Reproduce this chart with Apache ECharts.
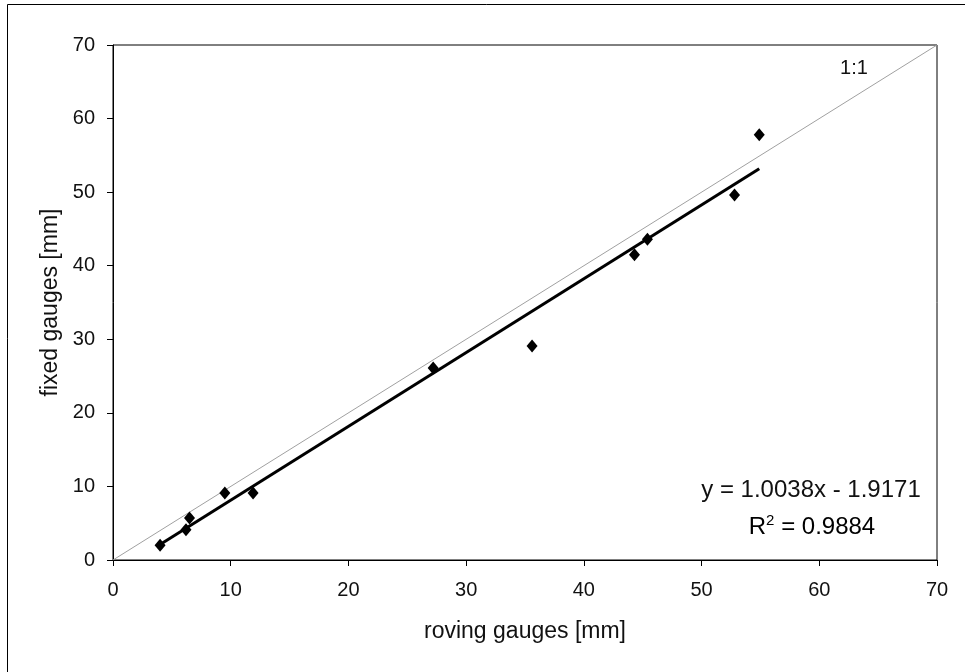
<!DOCTYPE html>
<html lang="en">

<head>
    <meta charset="UTF-8">
    <title>fixed vs roving gauges</title>
    <script src="https://cdn.jsdelivr.net/npm/echarts@6/dist/echarts.min.js"></script>
    <style>
        html,
        body {
            margin: 0;
            padding: 0;
            background: #fff;
        }

        #main {
            width: 965px;
            height: 672px;
        }
    </style>
</head>

<body>
    <div id="main"></div>
    <script type="text/javascript">
        // roving gauges (x) and fixed gauges (y), mm
        var roving = [4.0, 6.2, 6.5, 9.5, 11.9, 27.2, 35.6, 44.3, 45.4, 52.8, 54.9];
        var fixed = [2.0, 4.1, 5.7, 9.1, 9.1, 26.1, 29.1, 41.5, 43.6, 49.6, 57.8];
        // linear fit printed on the chart
        var slope = 1.0038;
        var intercept = -1.9171;
        var r2 = 0.9884;
        var axisTicks = [0, 10, 20, 30, 40, 50, 60, 70];

        var points = roving.map(function (x, i) { return [x, fixed[i]]; });
        var xMin = Math.min.apply(null, roving);
        var xMax = Math.max.apply(null, roving);
        var fitLine = [[xMin, slope * xMin + intercept], [xMax, slope * xMax + intercept]];
        var lo = axisTicks[0], hi = axisTicks[axisTicks.length - 1];
        var oneToOne = [[lo, lo], [hi, hi]];

        var font = 'Liberation Sans, Arial, sans-serif';
        var axisCommon = {
            type: 'value',
            min: lo,
            max: hi,
            interval: 10,
            nameLocation: 'middle',
            nameTextStyle: { fontFamily: font, fontSize: 23, color: '#111' },
            axisLine: { show: true, lineStyle: { color: '#000', width: 1 } },
            axisTick: { show: true, length: 6, lineStyle: { color: '#000' } },
            axisLabel: { fontFamily: font, fontSize: 20, color: '#111' },
            splitLine: { show: false }
        };

        var myChart = echarts.init(document.getElementById('main'));
        var option = {
            animation: false,
            backgroundColor: '#fff',
            grid: { left: 113, right: 28, top: 45, bottom: 112, show: true, borderColor: '#000', borderWidth: 1 },
            xAxis: Object.assign({}, axisCommon, {
                name: 'roving gauges [mm]',
                nameGap: 60,
                axisLabel: Object.assign({}, axisCommon.axisLabel, { margin: 20 })
            }),
            yAxis: Object.assign({}, axisCommon, {
                name: 'fixed gauges [mm]',
                nameGap: 50,
                axisLabel: Object.assign({}, axisCommon.axisLabel, { margin: 18 })
            }),
            graphic: [
                {
                    // outer chart-area frame, only its left and top edges fall inside the picture
                    type: 'rect',
                    shape: { x: 7.5, y: 4.5, width: 1000, height: 700 },
                    style: { fill: 'none', stroke: '#000', lineWidth: 1 },
                    silent: true,
                    z: -1
                },
                {
                    type: 'text',
                    x: 854, y: 68,
                    style: { text: '1:1', font: '20px ' + font, fill: '#111', align: 'center', verticalAlign: 'middle' }
                },
                {
                    type: 'text',
                    x: 811, y: 490,
                    style: {
                        text: 'y = ' + slope.toFixed(4) + 'x - ' + Math.abs(intercept).toFixed(4),
                        font: '24px ' + font, fill: '#111', align: 'center', verticalAlign: 'middle'
                    }
                },
                {
                    type: 'text',
                    x: 812, y: 527,
                    style: {
                        text: '{n|R}{s|2}{n| = ' + r2.toFixed(4) + '}',
                        align: 'center', verticalAlign: 'middle',
                        rich: {
                            n: { fontFamily: font, fontSize: 24, lineHeight: 28, color: '#111' },
                            s: { fontFamily: font, fontSize: 15, lineHeight: 15, color: '#111', verticalAlign: 'top', padding: [0, 0, 14, 0] }
                        }
                    }
                }
            ],
            series: [
                {
                    name: '1:1',
                    type: 'line',
                    data: oneToOne,
                    symbol: 'none',
                    lineStyle: { color: '#a0a0a0', width: 1 },
                    z: 1
                },
                {
                    name: 'fit',
                    type: 'line',
                    data: fitLine,
                    symbol: 'none',
                    lineStyle: { color: '#000', width: 3 },
                    z: 2
                },
                {
                    name: 'gauges',
                    type: 'scatter',
                    data: points,
                    symbol: 'diamond',
                    symbolSize: [11, 13],
                    itemStyle: { color: '#000', opacity: 1 },
                    z: 3
                }
            ]
        };
        myChart.setOption(option);
    </script>
</body>

</html>
